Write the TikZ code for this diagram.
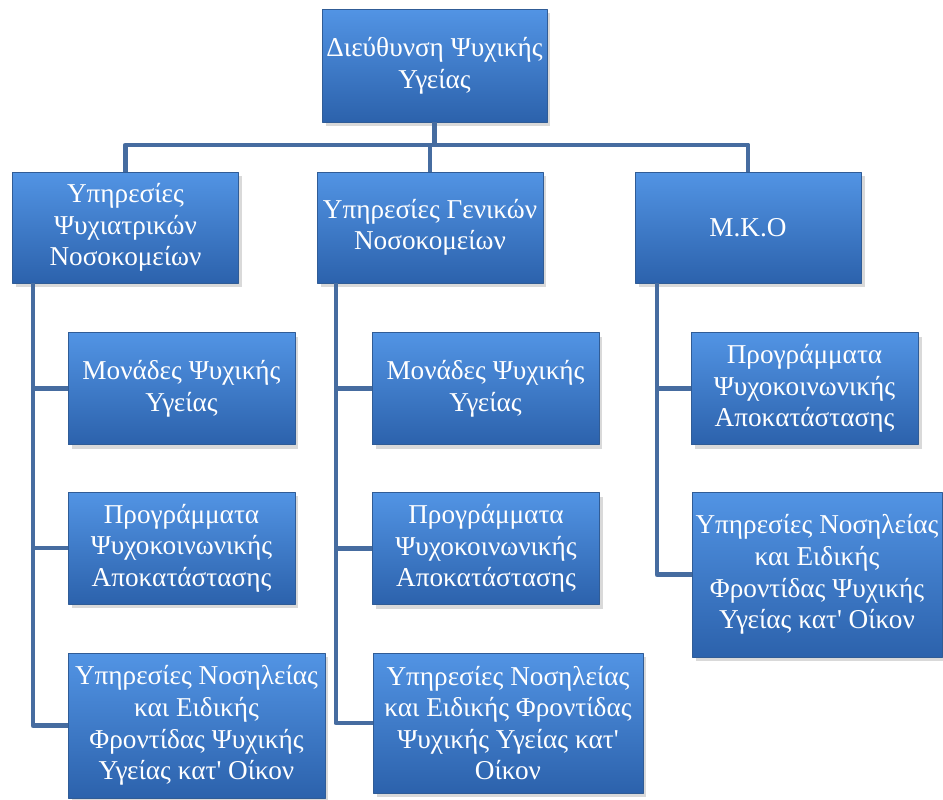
\documentclass[tikz,border=0pt]{standalone}
\usepackage{fontspec}
\setmainfont{Liberation Serif}
\usetikzlibrary{shadows}
\definecolor{boxtop}{RGB}{82,148,228}
\definecolor{boxmid}{RGB}{60,126,206}
\definecolor{boxbot}{RGB}{44,98,172}
\definecolor{boxline}{RGB}{48,92,150}
\definecolor{conncol}{RGB}{70,108,160}
\begin{document}
\begin{tikzpicture}[x=0.02cm,y=-0.02cm,line join=round,
	kouti/.style={draw=boxline,line width=0.4pt,top color=boxtop,middle color=boxmid,bottom color=boxbot,
		text=white,align=center,inner sep=0pt,font=\fontsize{15.5}{18}\selectfont,
		drop shadow={shadow xshift=2pt,shadow yshift=-2.5pt,opacity=0.3}},
	mikro/.style={kouti,minimum width=4.54cm,minimum height=2.24cm},
	grammi/.style={draw=conncol,line width=2.8pt}]
	\useasboundingbox (0,0) rectangle (943,800);
	% Epipedo 0
	\node[kouti,minimum width=4.5cm,minimum height=2.26cm] (dieuth) at (434.5,65.5) {Διεύθυνση Ψυχικής\\Υγείας};
	% Epipedo 1
	\node[kouti,minimum width=4.52cm,minimum height=2.22cm] (psyx) at (125.5,227.5) {Υπηρεσίες\\Ψυχιατρικών\\Νοσοκομείων};
	\node[kouti,minimum width=4.52cm,minimum height=2.22cm] (genik) at (430,227.5) {Υπηρεσίες Γενικών\\Νοσοκομείων};
	\node[kouti,minimum width=4.52cm,minimum height=2.22cm] (mko) at (748,227.5) {Μ.Κ.Ο};
	% Epipedo 2 - psyxiatrika
	\node[mikro] (psyxA) at (181.5,388.5) {Μονάδες Ψυχικής\\Υγείας};
	\node[mikro] (psyxB) at (181.5,548) {Προγράμματα\\Ψυχοκοινωνικής\\Αποκατάστασης};
	\node[kouti,minimum width=5.14cm,minimum height=2.9cm] (psyxC) at (196.5,725.5) {Υπηρεσίες Νοσηλείας\\και Ειδικής\\Φροντίδας Ψυχικής\\Υγείας κατ\textquotesingle\ Οίκον};
	% Epipedo 2 - genika
	\node[mikro] (genikA) at (485.5,388.5) {Μονάδες Ψυχικής\\Υγείας};
	\node[mikro] (genikB) at (486,548.5) {Προγράμματα\\Ψυχοκοινωνικής\\Αποκατάστασης};
	\node[kouti,minimum width=5.4cm,minimum height=2.8cm] (genikC) at (508,723) {Υπηρεσίες Νοσηλείας\\και Ειδικής Φροντίδας\\Ψυχικής Υγείας κατ\textquotesingle\\Οίκον};
	% Epipedo 2 - MKO
	\node[mikro] (mkoA) at (804.5,388.5) {Προγράμματα\\Ψυχοκοινωνικής\\Αποκατάστασης};
	\node[kouti,minimum width=5cm,minimum height=3.3cm] (mkoB) at (817,574.5) {Υπηρεσίες Νοσηλείας\\και Ειδικής\\Φροντίδας Ψυχικής\\Υγείας κατ\textquotesingle\ Οίκον};
	% Grammes
	\coordinate (bar) at (434.5,145);
	\draw[grammi] (dieuth.south) -- (bar);
	\draw[grammi] (psyx.north) |- (bar) -| (mko.north);
	\draw[grammi] (genik.north) -- (genik.north |- bar);
	\coordinate (sp1) at (33,283.5);
	\coordinate (sp2) at (336,283.5);
	\coordinate (sp3) at (657,283.5);
	\draw[grammi] (sp1) |- (psyxC.west);
	\draw[grammi] (psyxA.west) -- (psyxA.west -| sp1);
	\draw[grammi] (psyxB.west) -- (psyxB.west -| sp1);
	\draw[grammi] (sp2) |- (genikC.west);
	\draw[grammi] (genikA.west) -- (genikA.west -| sp2);
	\draw[grammi] (genikB.west) -- (genikB.west -| sp2);
	\draw[grammi] (sp3) |- (mkoB.west);
	\draw[grammi] (mkoA.west) -- (mkoA.west -| sp3);
\end{tikzpicture}
\end{document}
